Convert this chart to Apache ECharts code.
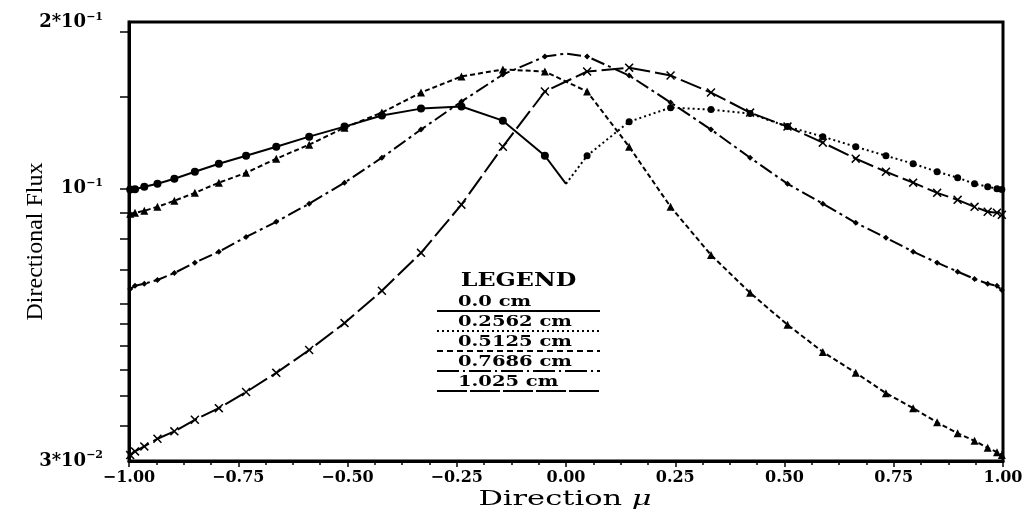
<!DOCTYPE html>
<html><head><meta charset="utf-8">
<script src="https://cdn.jsdelivr.net/npm/echarts@6/dist/echarts.min.js"></script>
<style>html,body{margin:0;padding:0;background:#fff}#c{width:1036px;height:516px}</style>
</head><body><div id="c"></div>
<script>
// Directions mu (quadrature nodes where markers are drawn)
const muLeft = [-0.9973, -0.9862, -0.9650, -0.9349, -0.8962, -0.8493, -0.7944, -0.7321, -0.6630, -0.5877, -0.5068, -0.4213, -0.3318, -0.2393, -0.1445, -0.0483];
const muRight = [0.0483, 0.1445, 0.2393, 0.3318, 0.4213, 0.5068, 0.5877, 0.6630, 0.7321, 0.7944, 0.8493, 0.8962, 0.9349, 0.9650, 0.9862, 0.9973];

// Legend / series names
const seriesNames = ['0.0 cm', '0.2562 cm', '0.5125 cm', '0.7686 cm', '1.025 cm'];

// 0.0 cm : values at muLeft, plus value at mu = 0
const flux0cm = [0.0996, 0.0998, 0.1009, 0.1022, 0.1045, 0.1078, 0.1117, 0.1157, 0.1204, 0.1259, 0.1316, 0.1382, 0.1425, 0.1438, 0.1351, 0.1157];
const flux0cmAtMu0 = 0.1022;

// 1.025 cm : value at mu = 0, plus values at muRight
const flux1025cmAtMu0 = 0.1022;
const flux1025cm = [0.1157, 0.1345, 0.1431, 0.1419, 0.1394, 0.1316, 0.1259, 0.1204, 0.1157, 0.1117, 0.1078, 0.1050, 0.1022, 0.1009, 0.1000, 0.0996];

// 0.2562 cm : muLeft then muRight
const flux02562cmLeft = [0.0895, 0.0899, 0.0907, 0.0923, 0.0948, 0.0982, 0.1027, 0.1073, 0.1142, 0.1215, 0.1310, 0.1400, 0.1530, 0.1643, 0.1694, 0.1679];
const flux02562cmRight = [0.1537, 0.1204, 0.0923, 0.0746, 0.0631, 0.0548, 0.0486, 0.0443, 0.0405, 0.0379, 0.0356, 0.0339, 0.0328, 0.0318, 0.0312, 0.0308];

// 0.5125 cm : muLeft, mu = 0, muRight
const flux05125cmLeft = [0.0642, 0.0651, 0.0657, 0.0668, 0.0689, 0.0721, 0.0757, 0.0808, 0.0864, 0.0936, 0.1027, 0.1147, 0.1299, 0.1470, 0.1657, 0.1794];
const flux05125cmAtMu0 = 0.1818;
const flux05125cmRight = [0.1794, 0.1650, 0.1464, 0.1299, 0.1147, 0.1022, 0.0936, 0.0860, 0.0805, 0.0757, 0.0721, 0.0693, 0.0671, 0.0657, 0.0651, 0.0639];

// 0.7686 cm : muLeft then muRight
const flux07686cmLeft = [0.0308, 0.0313, 0.0320, 0.0331, 0.0342, 0.0360, 0.0379, 0.0407, 0.0443, 0.0490, 0.0552, 0.0637, 0.0753, 0.0932, 0.1204, 0.1537];
const flux07686cmRight = [0.1679, 0.1708, 0.1650, 0.1530, 0.1400, 0.1316, 0.1226, 0.1142, 0.1078, 0.1027, 0.0982, 0.0952, 0.0923, 0.0903, 0.0899, 0.0891];

// Axis ticks / labels
const xTickLabelValues = [-1.00, -0.75, -0.50, -0.25, 0.00, 0.25, 0.50, 0.75, 1.00];
const yMin = 0.03, yMax = 0.209;
const yTickValues = [0.035, 0.04, 0.045, 0.05, 0.055, 0.06, 0.07, 0.08, 0.09, 0.1, 0.15, 0.2];
const yLabelValues = [0.03001, 0.1, 0.2085];
const yLabelTexts = [['3*10', '\u22122'], ['10', '\u22121'], ['2*10', '\u22121']];

function pts(mus, vals) { return mus.map((m, i) => [m, vals[i]]); }
function zeroPt(v) { return { value: [0, v], symbol: 'none' }; }

const crossPath = 'path://M0,1.2 L1.2,0 L5,3.8 L8.8,0 L10,1.2 L6.2,5 L10,8.8 L8.8,10 L5,6.2 L1.2,10 L0,8.8 L3.8,5 Z';

const chart = echarts.init(document.getElementById('c'), null, { renderer: 'canvas' });

const lineBase = { type: 'line', animation: false, showSymbol: true, clip: true, z: 3 };

const series = [
  Object.assign({}, lineBase, {
    name: seriesNames[0],
    data: pts(muLeft, flux0cm).concat([zeroPt(flux0cmAtMu0)]),
    symbol: 'circle', symbolSize: 8,
    itemStyle: { color: '#000' },
    lineStyle: { color: '#000', width: 2, type: 'solid' }
  }),
  Object.assign({}, lineBase, {
    name: seriesNames[1],
    data: pts(muLeft, flux02562cmLeft).concat(pts(muRight, flux02562cmRight)),
    symbol: 'triangle', symbolSize: 8,
    itemStyle: { color: '#000' },
    lineStyle: { color: '#000', width: 2, type: [5, 3] }
  }),
  Object.assign({}, lineBase, {
    name: seriesNames[2],
    data: pts(muLeft, flux05125cmLeft).concat([zeroPt(flux05125cmAtMu0)]).concat(pts(muRight, flux05125cmRight)),
    symbol: 'diamond', symbolSize: 6,
    itemStyle: { color: '#000' },
    lineStyle: { color: '#000', width: 2, type: [14, 4, 3, 4] }
  }),
  Object.assign({}, lineBase, {
    name: seriesNames[3],
    data: pts(muLeft, flux07686cmLeft).concat(pts(muRight, flux07686cmRight)),
    symbol: crossPath, symbolSize: 9,
    itemStyle: { color: '#000' },
    lineStyle: { color: '#000', width: 2, type: [22, 5] }
  }),
  Object.assign({}, lineBase, {
    name: seriesNames[4],
    data: [zeroPt(flux1025cmAtMu0)].concat(pts(muRight, flux1025cm)),
    symbol: 'circle', symbolSize: 7,
    itemStyle: { color: '#000' },
    lineStyle: { color: '#000', width: 2, type: [2, 3] }
  })
];

// Legend drawn as text over a sample line (as in the original plot)
const legendDash = [null, [2, 3], [6, 4], [22, 4, 2, 4], [30, 3]];
const legendLeft = 437, legendRight = 600, legendTop = 281, legendRow = 20;
const legendGraphic = [{
  type: 'text', x: (legendLeft + legendRight) / 2, y: legendTop, scaleX: 1.25,
  style: { text: 'LEGEND', fontFamily: 'DejaVu Serif', fontWeight: 'bold', fontSize: 19, fill: '#000', align: 'center', verticalAlign: 'middle' }
}];
seriesNames.forEach((name, i) => {
  const ty = legendTop + 21 + i * legendRow;
  legendGraphic.push({
    type: 'text', x: 458, y: ty, scaleX: 1.3,
    style: { text: name, fontFamily: 'DejaVu Serif', fontWeight: 'bold', fontSize: 15, fill: '#000', align: 'left', verticalAlign: 'middle' }
  });
  legendGraphic.push({
    type: 'line', shape: { x1: legendLeft, y1: ty + 9, x2: legendRight, y2: ty + 9 },
    style: { stroke: '#000', lineWidth: 2, lineDash: legendDash[i] || null }
  });
});
legendGraphic.push({
  type: 'text', x: 565, y: 500, scaleX: 1.45,
  style: {
    text: 'Direction {m|\u03bc}', fontFamily: 'DejaVu Serif', fontSize: 21, fill: '#000', align: 'center', verticalAlign: 'middle',
    rich: { m: { fontFamily: 'DejaVu Serif', fontStyle: 'italic', fontSize: 21, fill: '#000' } }
  }
});

const option = {
  animation: false,
  backgroundColor: '#fff',
  grid: { left: 129, right: 33, top: 22, bottom: 55, show: true, borderColor: '#000', borderWidth: 3, backgroundColor: 'transparent' },
  xAxis: {
    type: 'value', min: -1, max: 1, interval: 0.25,
    axisLine: { show: true, onZero: false, lineStyle: { color: '#000', width: 3 } },
    axisTick: { show: true, inside: false, length: 6, lineStyle: { color: '#000', width: 1.5 } },
    minorTick: { show: true, splitNumber: 4, length: 4, lineStyle: { color: '#000', width: 1.5 } },
    splitLine: { show: false },
    axisLabel: {
      margin: 9, color: '#000', fontFamily: 'DejaVu Serif', fontWeight: 'bold', fontSize: 16,
      customValues: xTickLabelValues,
      formatter: v => (v < 0 ? '\u2212' : '') + Math.abs(v).toFixed(2)
    }
  },
  yAxis: {
    type: 'log', logBase: 10, min: yMin, max: yMax,
    name: 'Directional Flux', nameLocation: 'middle', nameGap: 81, nameMoveOverlap: false,
    nameTextStyle: { fontFamily: 'Liberation Serif', fontSize: 24, color: '#000' },
    axisLine: { show: true, onZero: false, lineStyle: { color: '#000', width: 3 } },
    axisTick: { show: true, inside: false, length: 9, customValues: yTickValues, lineStyle: { color: '#000', width: 1.5 } },
    minorTick: { show: false },
    splitLine: { show: false },
    axisLabel: {
      margin: 26, color: '#000',
      customValues: yLabelValues,
      formatter: function (v) {
        const idx = yLabelValues.reduce((best, lv, i) => Math.abs(Math.log(lv) - Math.log(v)) < Math.abs(Math.log(yLabelValues[best]) - Math.log(v)) ? i : best, 0);
        const t = yLabelTexts[idx];
        return '{a|' + t[0] + '}{s|' + t[1] + '}';
      },
      rich: {
        a: { fontFamily: 'DejaVu Serif', fontWeight: 'bold', fontSize: 18, color: '#000', lineHeight: 22, verticalAlign: 'middle' },
        s: { fontFamily: 'DejaVu Serif', fontWeight: 'bold', fontSize: 11, color: '#000', lineHeight: 22, verticalAlign: 'top' }
      }
    }
  },
  graphic: legendGraphic,
  series: series
};
chart.setOption(option);
</script>
</body></html>
